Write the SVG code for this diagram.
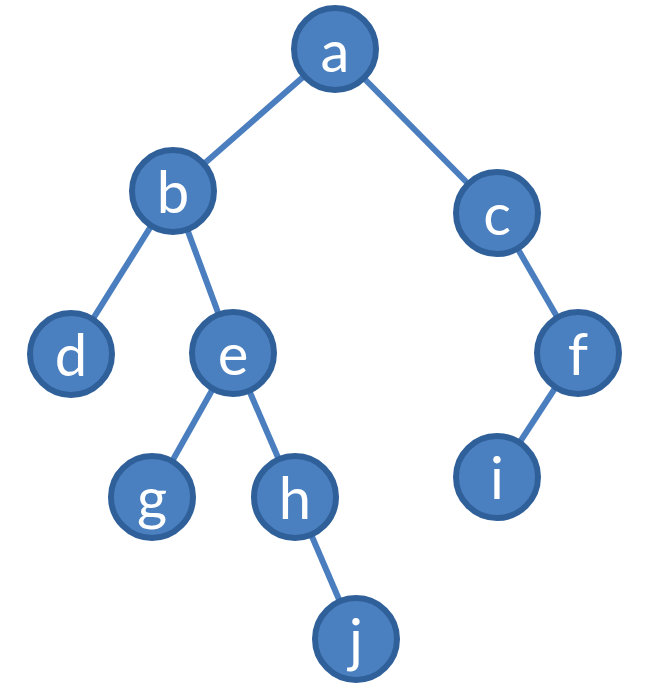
<svg xmlns="http://www.w3.org/2000/svg" width="666" height="689" viewBox="0 0 666 689">
<style>
.edge{stroke:#4a7ebf;stroke-width:6;stroke-linecap:butt;fill:none}
.node circle{fill:#4b80c0;stroke:#30609a;stroke-width:6}
.node text{fill:#ffffff;font-family:Lato,"Open Sans","Liberation Sans",sans-serif;font-size:58px;text-anchor:middle}
</style>
<rect width="666" height="689" fill="#ffffff"/>
<g id="connectors">
<line class="edge" x1="335" y1="49" x2="173" y2="191"/>
<line class="edge" x1="335" y1="49" x2="497" y2="213"/>
<line class="edge" x1="173" y1="191" x2="71" y2="354"/>
<line class="edge" x1="173" y1="191" x2="233" y2="353"/>
<line class="edge" x1="233" y1="353" x2="152" y2="497"/>
<line class="edge" x1="233" y1="353" x2="295" y2="497"/>
<line class="edge" x1="295" y1="497" x2="356" y2="639"/>
<line class="edge" x1="497" y1="213" x2="578" y2="353"/>
<line class="edge" x1="578" y1="353" x2="497" y2="477"/>
</g>
<g id="node-a" class="node"><circle cx="335" cy="49" r="41"/><text x="335" y="72">a</text></g>
<g id="node-b" class="node"><circle cx="173" cy="191" r="41"/><text x="173" y="213">b</text></g>
<g id="node-c" class="node"><circle cx="497" cy="213" r="41"/><text x="497" y="235">c</text></g>
<g id="node-d" class="node"><circle cx="71" cy="354" r="41"/><text x="71" y="376">d</text></g>
<g id="node-e" class="node"><circle cx="233" cy="353" r="41"/><text x="233" y="375">e</text></g>
<g id="node-f" class="node"><circle cx="578" cy="353" r="41"/><text x="578" y="375">f</text></g>
<g id="node-g" class="node"><circle cx="152" cy="497" r="41"/><text x="152" y="519">g</text></g>
<g id="node-h" class="node"><circle cx="295" cy="497" r="41"/><text x="295" y="519">h</text></g>
<g id="node-i" class="node"><circle cx="497" cy="477" r="41"/><text x="497" y="499">i</text></g>
<g id="node-j" class="node"><circle cx="356" cy="639" r="41"/><text x="356" y="661">j</text></g>
</svg>
